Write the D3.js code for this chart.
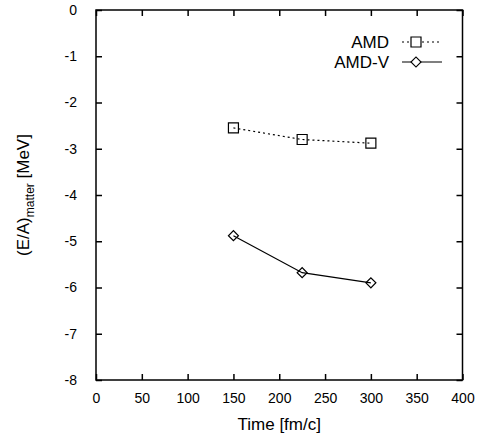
<!DOCTYPE html>
<html>
<head>
<meta charset="utf-8">
<script src="https://d3js.org/d3.v7.min.js"></script>
<style>
  body { margin: 0; background: #fff; }
  text { font-family: "Liberation Sans", Arial, sans-serif; fill: #000; }
</style>
</head>
<body>
<svg id="chart" width="478" height="438"></svg>
<script>
// data
var times = [150, 225, 300];
var amd = [-2.55, -2.80, -2.88];
var amdV = [-4.88, -5.68, -5.90];
var xTicks = [0, 50, 100, 150, 200, 250, 300, 350, 400];
var yTicks = [0, -1, -2, -3, -4, -5, -6, -7, -8];

var svg = d3.select("#chart");
var pLeft = 96, pRight = 462.5, pTop = 10, pBottom = 380;

var x = d3.scaleLinear().domain([0, 400]).range([pLeft, pRight]);
var y = d3.scaleLinear().domain([-8, 0]).range([pBottom, pTop]);
var plain = function(d) { return String(d); };

// frame
svg.append("rect")
  .attr("x", pLeft).attr("y", pTop)
  .attr("width", pRight - pLeft).attr("height", pBottom - pTop)
  .attr("fill", "none").attr("stroke", "#000").attr("stroke-width", 1.5);

// ticks (inward, mirrored)
function axisStyle(g) {
  g.select(".domain").remove();
  g.selectAll(".tick line").attr("stroke", "#000").attr("stroke-width", 1.5);
}
svg.append("g").attr("transform", "translate(0," + pBottom + ")")
  .call(d3.axisBottom(x).tickValues(xTicks).tickSize(-6).tickPadding(13).tickFormat(plain))
  .call(axisStyle)
  .selectAll("text").style("font-size", "14px");
svg.append("g").attr("transform", "translate(0," + pTop + ")")
  .call(d3.axisTop(x).tickValues(xTicks).tickSize(-6).tickFormat(""))
  .call(axisStyle);
svg.append("g").attr("transform", "translate(" + pLeft + ",0)")
  .call(d3.axisLeft(y).tickValues(yTicks).tickSize(-6).tickPadding(19).tickFormat(plain))
  .call(axisStyle)
  .selectAll("text").style("font-size", "14px");
svg.append("g").attr("transform", "translate(" + pRight + ",0)")
  .call(d3.axisRight(y).tickValues(yTicks).tickSize(-6).tickFormat(""))
  .call(axisStyle);

// axis titles
svg.append("text")
  .attr("x", x(200)).attr("y", 430)
  .attr("text-anchor", "middle")
  .style("font-size", "17px")
  .text("Time [fm/c]");

var yl = svg.append("text")
  .attr("transform", "translate(29," + y(-4) + ") rotate(-90)")
  .attr("text-anchor", "middle")
  .style("font-size", "17px");
yl.append("tspan").text("(E/A)");
yl.append("tspan").attr("dy", 5).style("font-size", "12px").text("matter");
yl.append("tspan").attr("dy", -5).text(" [MeV]");

var line = d3.line().x(function(d) { return x(d[0]); }).y(function(d) { return y(d[1]); });
var amdPts = times.map(function(t, i) { return [t, amd[i]]; });
var amdVPts = times.map(function(t, i) { return [t, amdV[i]]; });

svg.append("path").datum(amdPts).attr("d", line)
  .attr("fill", "none").attr("stroke", "#000").attr("stroke-width", 1.2)
  .attr("stroke-dasharray", "2,3");
svg.append("path").datum(amdVPts).attr("d", line)
  .attr("fill", "none").attr("stroke", "#000").attr("stroke-width", 1.2);

var sq = d3.symbol().type(d3.symbolSquare).size(100);
var dm = d3.symbol().type(d3.symbolSquare).size(50);

svg.selectAll(".sq").data(amdPts).enter().append("path")
  .attr("d", sq)
  .attr("transform", function(d) { return "translate(" + x(d[0]) + "," + y(d[1]) + ")"; })
  .attr("fill", "none").attr("stroke", "#000").attr("stroke-width", 1.2);
svg.selectAll(".dm").data(amdVPts).enter().append("path")
  .attr("d", dm)
  .attr("transform", function(d) { return "translate(" + x(d[0]) + "," + y(d[1]) + ") rotate(45)"; })
  .attr("fill", "none").attr("stroke", "#000").attr("stroke-width", 1.2);

// legend
var legend = [
  { name: "AMD", dash: "2,3", sym: sq, rot: 0, yy: 42 },
  { name: "AMD-V", dash: null, sym: dm, rot: 45, yy: 62 }
];
legend.forEach(function(l) {
  svg.append("text").attr("x", 389).attr("y", l.yy + 6)
    .attr("text-anchor", "end").style("font-size", "17px").text(l.name);
  svg.append("line").attr("x1", 402).attr("x2", 442).attr("y1", l.yy).attr("y2", l.yy)
    .attr("stroke", "#000").attr("stroke-width", 1.2)
    .attr("stroke-dasharray", l.dash);
  svg.append("path").attr("d", l.sym)
    .attr("transform", "translate(416," + l.yy + ") rotate(" + l.rot + ")")
    .attr("fill", "#fff").attr("stroke", "#000").attr("stroke-width", 1.2);
});
</script>
</body>
</html>
